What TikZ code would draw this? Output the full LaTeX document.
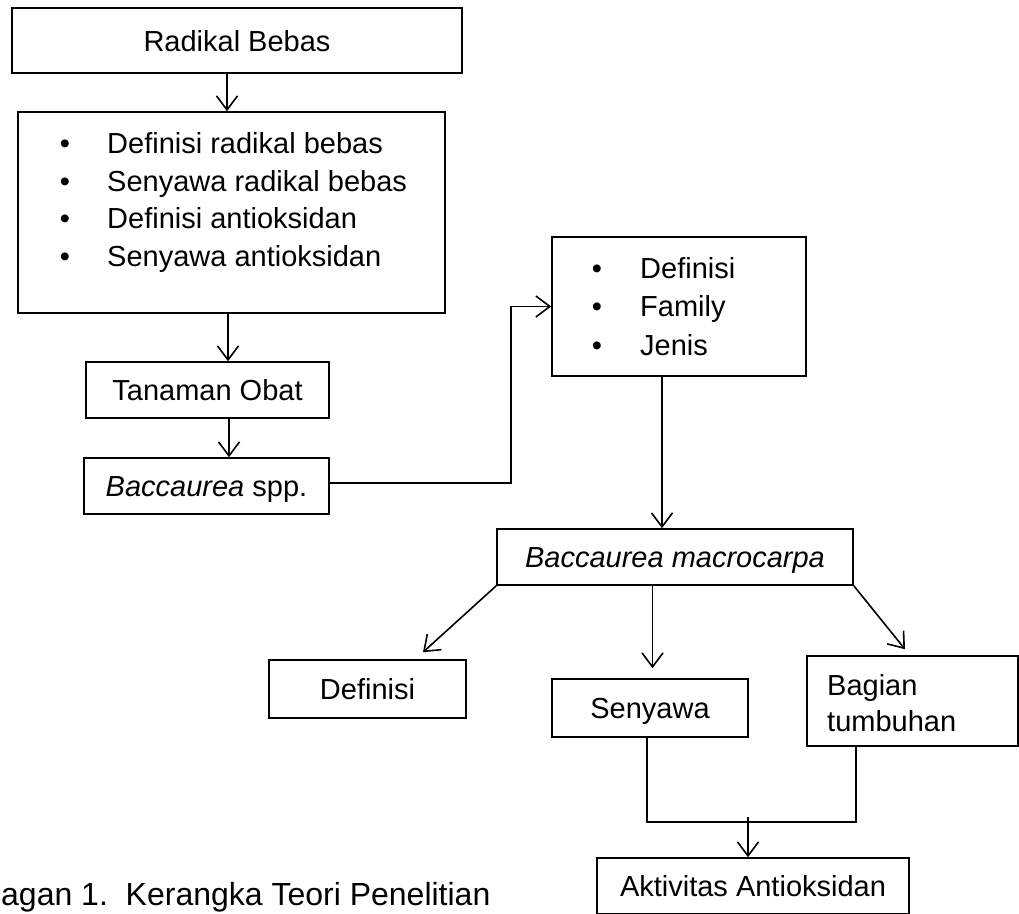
\documentclass[tikz,border=0pt]{standalone}
\usepackage{fontspec}
\setmainfont{Liberation Sans}
\usetikzlibrary{arrows.meta,calc}
\begin{document}
\begin{tikzpicture}[x=1pt,y=-1pt,
  every node/.style={font=\fontsize{29}{35}\selectfont},
  box/.style={draw, line width=1.6pt, inner sep=0pt, text height=21pt, text depth=0pt},
  txt/.style={inner sep=0pt, anchor=base west},
  bul/.style={inner sep=0pt, anchor=base},
  conn/.style={line width=1.6pt},
  arr/.style={line width=1.6pt, -{Straight Barb[length=14pt,width=21pt]}}]
\useasboundingbox (0,0) rectangle (1019,913);

% boxes
\node[box, minimum width=450pt, minimum height=65pt] (rb) at (237,40.5) {Radikal Bebas};
\node[box, minimum width=427pt, minimum height=201pt] (l1) at (231.5,212.5) {};
\node[box, minimum width=243pt, minimum height=56pt] (to) at (207.5,390) {Tanaman Obat};
\node[box, minimum width=245pt, minimum height=56pt] (bs) at (206.5,486) {{\itshape Baccaurea} spp.};
\node[box, minimum width=254pt, minimum height=139pt] (l2) at (679,306.5) {};
\node[box, minimum width=356pt, minimum height=56pt] (bm) at (675,557) {\itshape Baccaurea macrocarpa};
\node[box, minimum width=197pt, minimum height=58pt] (def) at (367.5,689) {Definisi};
\node[box, minimum width=196pt, minimum height=58pt] (sen) at (650,708) {Senyawa};
\node[box, minimum width=211pt, minimum height=90pt] (bag) at (912.5,701) {};
\node[box, minimum width=312pt, minimum height=56pt] (akt) at (753,886) {Aktivitas Antioksidan};

% list 1
\node[bul] (b1a) at (65,153) {•};
\node[bul] (b1b) at (65,191) {•};
\node[bul] (b1c) at (65,228.5) {•};
\node[bul] (b1d) at (65,266) {•};
\node[txt] (t1a) at (107,153) {Definisi radikal bebas};
\node[txt] (t1b) at (107,191) {Senyawa radikal bebas};
\node[txt] (t1c) at (107,228.5) {Definisi antioksidan};
\node[txt] (t1d) at (107,266) {Senyawa antioksidan};

% list 2
\node[bul] (b2a) at (597,278) {•};
\node[bul] (b2b) at (597,316.5) {•};
\node[bul] (b2c) at (597,355) {•};
\node[txt] (t2a) at (640,278) {Definisi};
\node[txt] (t2b) at (640,316.5) {Family};
\node[txt] (t2c) at (640,355) {Jenis};

% Bagian tumbuhan
\node[txt] (bag1) at (827,695) {Bagian};
\node[txt] (bag2) at (827,731) {tumbuhan};

% caption
\node[txt, font=\fontsize{32}{38}\selectfont] (cap) at (1,905) {agan 1.\ \ Kerangka Teori Penelitian};

% connectors
\draw[arr] ([xshift=-10pt]rb.south) -- ([xshift=-10pt]rb.south |- l1.north);
\draw[arr] ([xshift=-3.5pt]l1.south) -- ([xshift=-3.5pt]l1.south |- to.north);
\draw[arr] ([xshift=21.5pt]to.south) -- ([xshift=21.5pt]to.south |- bs.north);
\coordinate (bend) at (511,306.5);
\draw[arr] ($(bs.east)+(0,-3)$) -| (bend) -- (l2.west);
\draw[arr] ([xshift=-17pt]l2.south) -- ([xshift=-17pt]l2.south |- bm.north);
\draw[arr] (bm.south west) -- ($(def.north)+(55.5,-7)$);
\draw[arr] ($(bm.south)+(-22.5,0)$) -- ($(sen.north)+(2.5,-10)$);
\draw[arr] (bm.south east) -- ($(bag.north)+(-7.5,-6)$);
\draw[conn] ($(sen.south)+(-3,0)$) |- ($(bag.south)+(-56.5,75)$) -- ($(bag.south)+(-56.5,0)$);
\draw[arr] ($(akt.north)+(-5,-40)$) -- ($(akt.north)+(-5,0)$);
\end{tikzpicture}
\end{document}
